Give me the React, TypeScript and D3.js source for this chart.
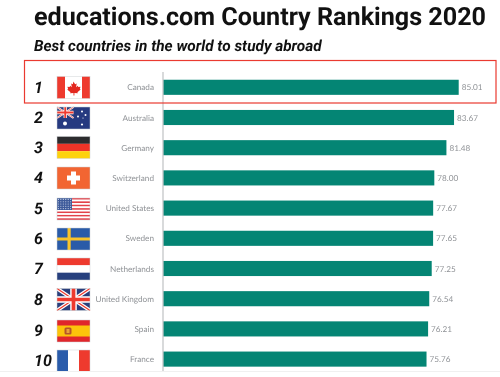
import React from "react";
import * as d3 from "d3";

const ranks = ["1", "2", "3", "4", "5", "6", "7", "8", "9", "10"];
const countries = ["Canada", "Australia", "Germany", "Switzerland", "United States", "Sweden", "Netherlands", "United Kingdom", "Spain", "France"];
const scores = [85.01, 83.67, 81.48, 78.0, 77.67, 77.65, 77.25, 76.54, 76.21, 75.76];
const labels = ["85.01", "83.67", "81.48", "78.00", "77.67", "77.65", "77.25", "76.54", "76.21", "75.76"];

const W = 500, H = 377;
const x = d3.scaleLinear().domain([0, 85.01]).range([163, 458.7]);
const y = d3.scaleBand<string>().domain(countries).range([72.2, 374.2]).paddingInner(0.5).paddingOuter(0.25);
const FW = 33, FH = 22;

function Flag({ name }: { name: string }) {
  const R = "#ee3a2e", Wh = "#ffffff";
  const stripesH = (c: string[]) => c.map((f, i) => <rect key={i} x={0} y={(i * FH) / c.length} width={FW} height={FH / c.length} fill={f} />);
  const stripesV = (c: string[]) => c.map((f, i) => <rect key={i} x={(i * FW) / c.length} y={0} width={FW / c.length} height={FH} fill={f} />);
  const uj = (w: number, h: number) => (
    <g>
      <rect width={w} height={h} fill="#2b3f7c" />
      <path d={`M0 0L${w} ${h}M${w} 0L0 ${h}`} stroke="#fff" strokeWidth={h * 0.17} />
      <path d={`M0 0L${w} ${h}M${w} 0L0 ${h}`} stroke={R} strokeWidth={h * 0.06} />
      <path d={`M${w / 2} 0V${h}M0 ${h / 2}H${w}`} stroke="#fff" strokeWidth={h * 0.3} />
      <path d={`M${w / 2} 0V${h}M0 ${h / 2}H${w}`} stroke={R} strokeWidth={h * 0.17} />
    </g>
  );
  switch (name) {
    case "Canada":
      return (
        <g>
          <rect width={FW} height={FH} fill={Wh} />
          <rect width={8} height={FH} fill="#ee3a2e" />
          <rect x={25} width={8} height={FH} fill="#ee3a2e" />
          <path d="M16.5 5l1.6 2.8 1.6-.7-.6 3.6 1.7-1.4.5 1.3 2.2-.3-.7 2.2.9.6-3.3 2.6.4 1.1-3.4-.4v2.5h-.9v-2.5l-3.4.4.4-1.1-3.3-2.6.9-.6-.7-2.2 2.2.3.5-1.3 1.7 1.4-.6-3.6 1.6.7z" fill="#e3281f" />
        </g>
      );
    case "Australia":
      return (
        <g>
          <rect width={FW} height={FH} fill="#263a80" />
          {uj(16.5, 11)}
          {[[8, 16.5, 2], [25, 4.5, 1], [28.5, 8, 1], [21, 9.5, 1], [25, 17.5, 1.1], [26, 11, 0.6]].map(([cx, cy, r], i) => (
            <circle key={i} cx={cx} cy={cy} r={r} fill="#fff" />
          ))}
        </g>
      );
    case "Germany":
      return <g>{stripesH(["#2c2c2e", "#ee3427", "#fdd20e"])}</g>;
    case "Switzerland":
      return (
        <g>
          <rect width={FW} height={FH} fill="#f26532" />
          <rect x={14} y={4.5} width={5} height={13} fill="#fff" />
          <rect x={10} y={8.5} width={13} height={5} fill="#fff" />
        </g>
      );
    case "United States":
      return (
        <g>
          {stripesH(d3.range(13).map((i) => (i % 2 ? "#fff" : "#e2424a")))}
          <rect width={15} height={12} fill="#3d5a9a" />
          {d3.range(5).flatMap((r) => d3.range(6).map((c) => (
            <circle key={`${r}-${c}`} cx={1.4 + c * 2.45} cy={1.4 + r * 2.3} r={0.55} fill="#d5dcec" />
          )))}
        </g>
      );
    case "Sweden":
      return (
        <g>
          <rect width={FW} height={FH} fill="#2a5ba8" />
          <rect x={10.5} width={3.2} height={FH} fill="#f8c32a" />
          <rect y={9.5} width={FW} height={3} fill="#f8c32a" />
        </g>
      );
    case "Netherlands":
      return <g>{stripesH(["#ee3a2e", "#ffffff", "#27407e"])}</g>;
    case "United Kingdom":
      return uj(FW, FH);
    case "Spain":
      return (
        <g>
          <rect width={FW} height={FH} fill="#e0262b" />
          <rect y={5.5} width={FW} height={11} fill="#fcc30b" />
          <rect x={7.5} y={7.5} width={7} height={7} rx={1.5} fill="#b5552a" />
          <rect x={9.5} y={9} width={3} height={4} fill="#e9a23b" />
        </g>
      );
    case "France":
      return <g>{stripesV(["#2a5cab", "#ffffff", "#ee3a2e"])}</g>;
  }
  return null;
}

const flagCenters = [87.5, 118, 147.5, 178, 209, 239, 269, 299.5, 331, 361];

export default function App() {
  return (
    <svg width={W} height={H} viewBox={`0 0 ${W} ${H}`} textRendering="geometricPrecision" style={{ position: "absolute", left: 0, top: 0, filter: "blur(0.35px)" }}>
      <rect width={W} height={H} fill="#fff" />
      <text x={34} y={25} fontFamily="Roboto" fontWeight={700} fontSize={25.15} fill="#111">educations.com Country Rankings 2020</text>
      <text x={34} y={51} fontFamily="Roboto" fontWeight={700} fontStyle="italic" fontSize={15.4} fill="#111">Best countries in the world to study abroad</text>

      {countries.map((c, i) => {
        const by = y(c)!;
        const cy = by + y.bandwidth() / 2;
        return (
          <g key={c}>
            <rect x={x(0)} y={by} width={x(scores[i]) - x(0)} height={y.bandwidth()} fill="#048574" />
            <text x={x(scores[i]) + 3} y={cy + 3} fontFamily="Lato" fontSize={8.2} fill="#8f9296">{labels[i]}</text>
            <text x={154} y={cy + 3} textAnchor="end" fontFamily="Lato" fontSize={8.2} fill="#8f9296">{c}</text>
            <text x={34} y={flagCenters[i] + 5.4} fontFamily="Roboto" fontWeight={700} fontStyle="italic" fontSize={16} fill="#111">{ranks[i]}</text>
            <g transform={`translate(57,${flagCenters[i] - FH / 2})`}>
              <Flag name={c} />
              <rect x={0} y={0} width={FW} height={FH} fill="none" stroke="#cfd3d6" strokeWidth={0.5} />
            </g>
          </g>
        );
      })}
      <line x1={x(0)} x2={x(0)} y1={72} y2={371} stroke="#c4c6c8" strokeWidth={1.3} />
      <rect x={24.5} y={60.5} width={471.5} height={42.5} fill="none" stroke="#ea3a30" strokeWidth={1.2} />
      <rect x={0} y={371} width={W} height={6} fill="#fff" />
      <line x1={0} x2={W} y1={371.5} y2={371.5} stroke="#f0f0f0" />
    </svg>
  );
}
